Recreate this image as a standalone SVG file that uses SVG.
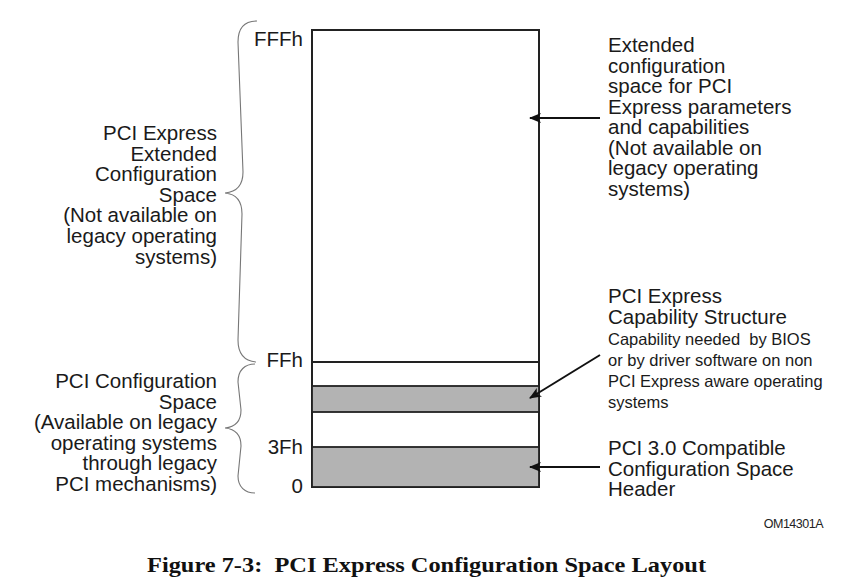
<svg xmlns="http://www.w3.org/2000/svg" width="868" height="584" viewBox="0 0 868 584">
<defs>
<style>
.t{font-family:"Liberation Sans",Arial,sans-serif;font-size:20.5px;fill:#1a1a1a}
.s{font-family:"Liberation Sans",Arial,sans-serif;font-size:16.5px;fill:#1a1a1a;white-space:pre}
.e{text-anchor:end}
.brace{fill:none;stroke:#777;stroke-width:1.1}
.arr{stroke:#111;stroke-width:2;fill:none;marker-end:url(#ah)}
.box{fill:#fff;stroke:#222;stroke-width:2}
.band{fill:#b3b3b3;stroke:#222;stroke-width:1.8}
.cap{font-family:"Liberation Serif","Times New Roman",serif;font-weight:bold;font-size:22px;fill:#111;white-space:pre}
</style>
<marker id="ah" viewBox="0 0 12 10" refX="11" refY="5" markerWidth="12" markerHeight="10" markerUnits="userSpaceOnUse" orient="auto">
<path d="M0 0 L12 5 L0 10 L3 5 Z" fill="#111"/>
</marker>
</defs>
<rect width="868" height="584" fill="#fff"/>

<g id="memory-map">
<rect class="box" x="312" y="30" width="227" height="457"/>
<line x1="312" y1="362" x2="539" y2="362" stroke="#222" stroke-width="1.8"/>
<rect class="band" x="312" y="386" width="227" height="26"/>
<rect class="band" x="312" y="447" width="227" height="40"/>
</g>

<g id="offset-labels">
<text class="t e" x="303" y="46">FFFh</text>
<text class="t e" x="303" y="367">FFh</text>
<text class="t e" x="303" y="454">3Fh</text>
<text class="t e" x="303" y="493">0</text>
</g>

<g id="brace-extended">
<path class="brace" d="M257 21 C245 21 238 28 238 42 L243 172 C243 186 236 192 225 193 C236 194 242 200 242 214 L238 340 C238 354 245 361 256 362"/>
<text class="t e" x="217" y="140">PCI Express</text>
<text class="t e" x="217" y="160.6">Extended</text>
<text class="t e" x="217" y="181.2">Configuration</text>
<text class="t e" x="217" y="201.8">Space</text>
<text class="t e" x="217" y="222.4">(Not available on</text>
<text class="t e" x="217" y="243">legacy operating</text>
<text class="t e" x="217" y="263.6">systems)</text>
</g>

<g id="brace-pci">
<path class="brace" d="M255 364 C245 364 238 370 238 382 L241 410 C241 422 235 427 225 428 C235 429 241 434 241 446 L238 476 C238 487 245 493 255 493"/>
<text class="t e" x="217" y="388">PCI Configuration</text>
<text class="t e" x="217" y="408.6">Space</text>
<text class="t e" x="217" y="429.2">(Available on legacy</text>
<text class="t e" x="217" y="449.8">operating systems </text>
<text class="t e" x="217" y="470.4">through legacy</text>
<text class="t e" x="217" y="491">PCI mechanisms)</text>
</g>

<g id="label-extended">
<text class="t" x="608" y="52">Extended</text>
<text class="t" x="608" y="72.5">configuration</text>
<text class="t" x="608" y="93">space for PCI</text>
<text class="t" x="608" y="113.5">Express parameters</text>
<text class="t" x="608" y="134">and capabilities</text>
<text class="t" x="608" y="154.5">(Not available on</text>
<text class="t" x="608" y="175">legacy operating</text>
<text class="t" x="608" y="195.5">systems)</text>
</g>

<g id="label-capability">
<text class="t" x="608" y="303">PCI Express</text>
<text class="t" x="608" y="324">Capability Structure</text>
<text class="s" x="608" y="344.5">Capability needed  by BIOS</text>
<text class="s" x="608" y="365.5">or by driver software on non</text>
<text class="s" x="608" y="386.5">PCI Express aware operating</text>
<text class="s" x="608" y="407.5">systems</text>
</g>

<g id="label-header">
<text class="t" x="608" y="455">PCI 3.0 Compatible</text>
<text class="t" x="608" y="475.5">Configuration Space</text>
<text class="t" x="608" y="496">Header</text>
</g>

<g id="connectors">
<line class="arr" x1="600" y1="118" x2="530" y2="118"/>
<line class="arr" x1="600" y1="355" x2="530" y2="398"/>
<line class="arr" x1="600" y1="467" x2="530" y2="467"/>
</g>

<text x="823" y="528" text-anchor="end" font-family="Liberation Sans,Arial,sans-serif" font-size="12.5" fill="#222" letter-spacing="-0.5">OM14301A</text>
<text class="cap" x="147" y="572" textLength="559" lengthAdjust="spacingAndGlyphs">Figure 7-3:  PCI Express Configuration Space Layout</text>
</svg>
